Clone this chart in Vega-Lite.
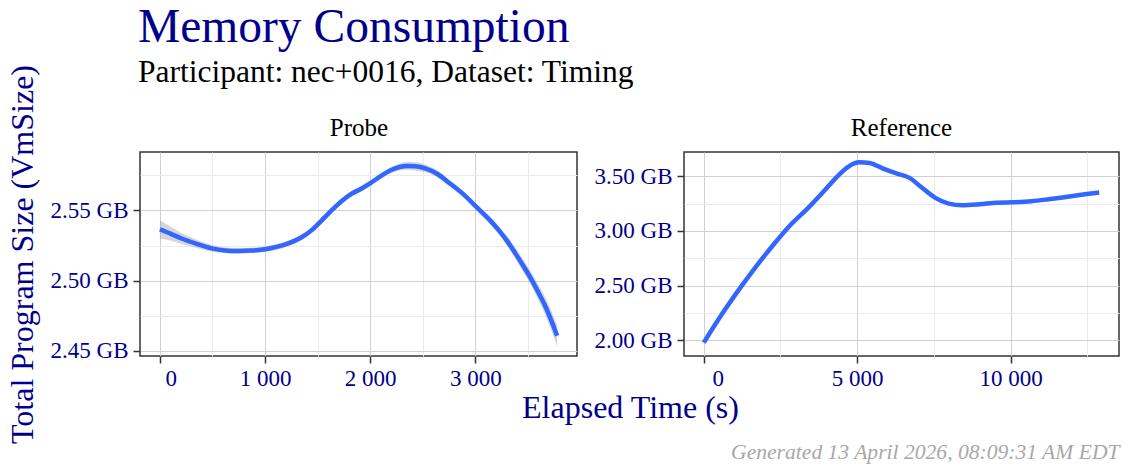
{
  "$schema": "https://vega.github.io/schema/vega-lite/v6.json",
  "padding": {"left": 5, "top": 3, "right": 2, "bottom": 2},
  "background": "white",
  "config": {
    "font": "Liberation Serif",
    "view": {"stroke": "#333333", "strokeWidth": 1.5},
    "axis": {
      "domain": false,
      "tickColor": "#333333",
      "tickSize": 7,
      "tickWidth": 1.5,
      "labelColor": "#00008B",
      "labelFontSize": 23,
      "labelFont": "Liberation Serif",
      "labelPadding": 4,
      "titleColor": "#00008B",
      "titleFontSize": 32,
      "titleFont": "Liberation Serif",
      "titleFontWeight": "normal",
      "gridWidth": 1
    }
  },
  "title": {
    "text": "Memory Consumption",
    "subtitle": "Participant: nec+0016, Dataset: Timing",
    "anchor": "start",
    "frame": "group",
    "dx": -2,
    "color": "#00008B",
    "font": "Liberation Serif",
    "fontSize": 47.5,
    "fontWeight": "normal",
    "subtitleColor": "black",
    "subtitleFont": "Liberation Serif",
    "subtitleFontSize": 31.5,
    "subtitlePadding": 6,
    "offset": -25
  },
  "bounds": "flush",
  "spacing": 107,
  "datasets": {
    "probe": [
      {"t": 0, "gb": 2.5365, "lo": 2.5299, "hi": 2.5431},
      {"t": 100, "gb": 2.5335, "lo": 2.5285, "hi": 2.5385},
      {"t": 206, "gb": 2.5300, "lo": 2.5260, "hi": 2.5340},
      {"t": 350, "gb": 2.5262, "lo": 2.5232, "hi": 2.5292},
      {"t": 492, "gb": 2.5230, "lo": 2.5205, "hi": 2.5255},
      {"t": 620, "gb": 2.5215, "lo": 2.5195, "hi": 2.5235},
      {"t": 746, "gb": 2.5211, "lo": 2.5191, "hi": 2.5231},
      {"t": 870, "gb": 2.5214, "lo": 2.5194, "hi": 2.5234},
      {"t": 1000, "gb": 2.5223, "lo": 2.5203, "hi": 2.5243},
      {"t": 1110, "gb": 2.5240, "lo": 2.5220, "hi": 2.5260},
      {"t": 1222, "gb": 2.5265, "lo": 2.5245, "hi": 2.5285},
      {"t": 1340, "gb": 2.5305, "lo": 2.5285, "hi": 2.5325},
      {"t": 1444, "gb": 2.5360, "lo": 2.5340, "hi": 2.5380},
      {"t": 1540, "gb": 2.5430, "lo": 2.5410, "hi": 2.5450},
      {"t": 1635, "gb": 2.5502, "lo": 2.5482, "hi": 2.5522},
      {"t": 1730, "gb": 2.5568, "lo": 2.5548, "hi": 2.5588},
      {"t": 1825, "gb": 2.5620, "lo": 2.5600, "hi": 2.5640},
      {"t": 1915, "gb": 2.5655, "lo": 2.5635, "hi": 2.5675},
      {"t": 2006, "gb": 2.5697, "lo": 2.5677, "hi": 2.5717},
      {"t": 2100, "gb": 2.5745, "lo": 2.5725, "hi": 2.5765},
      {"t": 2206, "gb": 2.5790, "lo": 2.5768, "hi": 2.5812},
      {"t": 2280, "gb": 2.5810, "lo": 2.5785, "hi": 2.5835},
      {"t": 2349, "gb": 2.5818, "lo": 2.5788, "hi": 2.5848},
      {"t": 2430, "gb": 2.5815, "lo": 2.5785, "hi": 2.5845},
      {"t": 2524, "gb": 2.5800, "lo": 2.5772, "hi": 2.5828},
      {"t": 2640, "gb": 2.5760, "lo": 2.5735, "hi": 2.5785},
      {"t": 2746, "gb": 2.5700, "lo": 2.5678, "hi": 2.5722},
      {"t": 2880, "gb": 2.5620, "lo": 2.5600, "hi": 2.5640},
      {"t": 3009, "gb": 2.5526, "lo": 2.5506, "hi": 2.5546},
      {"t": 3120, "gb": 2.5445, "lo": 2.5420, "hi": 2.5470},
      {"t": 3222, "gb": 2.5360, "lo": 2.5330, "hi": 2.5390},
      {"t": 3300, "gb": 2.5285, "lo": 2.5250, "hi": 2.5320},
      {"t": 3381, "gb": 2.5194, "lo": 2.5154, "hi": 2.5234},
      {"t": 3460, "gb": 2.5100, "lo": 2.5055, "hi": 2.5145},
      {"t": 3540, "gb": 2.5000, "lo": 2.4950, "hi": 2.5050},
      {"t": 3600, "gb": 2.4915, "lo": 2.4860, "hi": 2.4970},
      {"t": 3667, "gb": 2.4815, "lo": 2.4750, "hi": 2.4880},
      {"t": 3778, "gb": 2.4607, "lo": 2.4530, "hi": 2.4684}
    ],
    "reference": [
      {"t": 0, "gb": 1.979},
      {"t": 572, "gb": 2.231},
      {"t": 1134, "gb": 2.459},
      {"t": 1695, "gb": 2.672},
      {"t": 2256, "gb": 2.870},
      {"t": 2817, "gb": 3.053},
      {"t": 3378, "gb": 3.205},
      {"t": 3939, "gb": 3.372},
      {"t": 4388, "gb": 3.509},
      {"t": 4725, "gb": 3.591},
      {"t": 5062, "gb": 3.628},
      {"t": 5398, "gb": 3.622},
      {"t": 5847, "gb": 3.570},
      {"t": 6296, "gb": 3.524},
      {"t": 6689, "gb": 3.488},
      {"t": 7082, "gb": 3.402},
      {"t": 7531, "gb": 3.305},
      {"t": 7980, "gb": 3.250},
      {"t": 8429, "gb": 3.235},
      {"t": 8990, "gb": 3.244},
      {"t": 9551, "gb": 3.259},
      {"t": 10112, "gb": 3.263},
      {"t": 10673, "gb": 3.272},
      {"t": 11235, "gb": 3.290},
      {"t": 11796, "gb": 3.311},
      {"t": 12357, "gb": 3.333},
      {"t": 12884, "gb": 3.351}
    ]
  },
  "hconcat": [
    {
      "width": 437,
      "height": 204,
      "data": {"name": "probe"},
      "resolve": {"axis": {"x": "independent"}},
      "layer": [
        {
          "mark": {"type": "area", "color": "#999999", "opacity": 0.4, "interpolate": "monotone"},
          "encoding": {
            "x": {
              "field": "t",
              "type": "quantitative",
              "scale": {"domain": [-189, 3967], "nice": false, "zero": false},
              "axis": {
                "title": "Elapsed Time (s)",
                "titleX": 490,
                "titlePadding": 2,
                "values": [0, 500, 1000, 1500, 2000, 2500, 3000, 3500],
                "labelExpr": "datum.value % 1000 != 0 ? '' : replace(format(datum.value, ','), ',', ' ')",
                "labelOffset": {"condition": {"test": "datum.value == 0", "value": 11}, "value": 0},
                "tickOpacity": {"condition": {"test": "datum.value % 1000 != 0", "value": 0}, "value": 1},
                "gridColor": {"condition": {"test": "datum.value % 1000 != 0", "value": "#ebebeb"}, "value": "#d0d0d0"}
              }
            },
            "y": {
              "field": "lo",
              "type": "quantitative",
              "scale": {"domain": [2.4462, 2.5917], "nice": false, "zero": false},
              "axis": {
                "title": "Total Program Size (VmSize)",
                "titlePadding": 11,
                "labelPadding": 5,
                "values": [2.45, 2.475, 2.5, 2.525, 2.55, 2.575],
                "labelExpr": "round(datum.value * 1000) % 50 != 0 ? '' : format(datum.value, '.2f') + ' GB'",
                "tickOpacity": {"condition": {"test": "round(datum.value * 1000) % 50 != 0", "value": 0}, "value": 1},
                "gridColor": {"condition": {"test": "round(datum.value * 1000) % 50 != 0", "value": "#ebebeb"}, "value": "#d0d0d0"}
              }
            },
            "y2": {"field": "hi"}
          }
        },
        {
          "mark": {"type": "line", "color": "#3366FF", "strokeWidth": 4.5, "interpolate": "monotone"},
          "encoding": {
            "x": {
              "field": "t",
              "type": "quantitative",
              "axis": {
                "orient": "top",
                "title": "Probe",
                "titleColor": "black",
                "titleFontSize": 25,
                "titleBaseline": "alphabetic",
                "titlePadding": 17,
                "labels": false,
                "ticks": false,
                "grid": false,
                "domain": false
              }
            },
            "y": {"field": "gb", "type": "quantitative"}
          }
        }
      ]
    },
    {
      "width": 435,
      "height": 204,
      "title": {"text": "Reference", "fontSize": 25, "fontWeight": "normal", "color": "black", "anchor": "middle", "offset": 11, "font": "Liberation Serif"},
      "data": {"name": "reference"},
      "mark": {"type": "line", "color": "#3366FF", "strokeWidth": 4.5, "interpolate": "monotone"},
      "encoding": {
        "x": {
          "field": "t",
          "type": "quantitative",
          "scale": {"domain": [-644, 13529], "nice": false, "zero": false},
          "axis": {
            "title": "Generated 13 April 2026, 08:09:31 AM EDT",
            "titleAnchor": "end",
            "titleColor": "#a8a8a8",
            "titleFontStyle": "italic",
            "titleFontSize": 21.6,
            "titlePadding": 51,
            "values": [0, 2500, 5000, 7500, 10000, 12500],
            "labelExpr": "datum.value % 5000 != 0 ? '' : replace(format(datum.value, ','), ',', ' ')",
            "labelOffset": {"condition": {"test": "datum.value == 0", "value": 14}, "value": 0},
            "tickOpacity": {"condition": {"test": "datum.value % 5000 != 0", "value": 0}, "value": 1},
            "gridColor": {"condition": {"test": "datum.value % 5000 != 0", "value": "#ebebeb"}, "value": "#d0d0d0"}
          }
        },
        "y": {
          "field": "gb",
          "type": "quantitative",
          "scale": {"domain": [1.857, 3.722], "nice": false, "zero": false},
          "axis": {
            "title": null,
            "labelPadding": 5,
            "values": [2, 2.25, 2.5, 2.75, 3, 3.25, 3.5],
            "labelExpr": "round(datum.value * 100) % 50 != 0 ? '' : format(datum.value, '.2f') + ' GB'",
            "tickOpacity": {"condition": {"test": "round(datum.value * 100) % 50 != 0", "value": 0}, "value": 1},
            "gridColor": {"condition": {"test": "round(datum.value * 100) % 50 != 0", "value": "#ebebeb"}, "value": "#d0d0d0"}
          }
        }
      }
    }
  ]
}
